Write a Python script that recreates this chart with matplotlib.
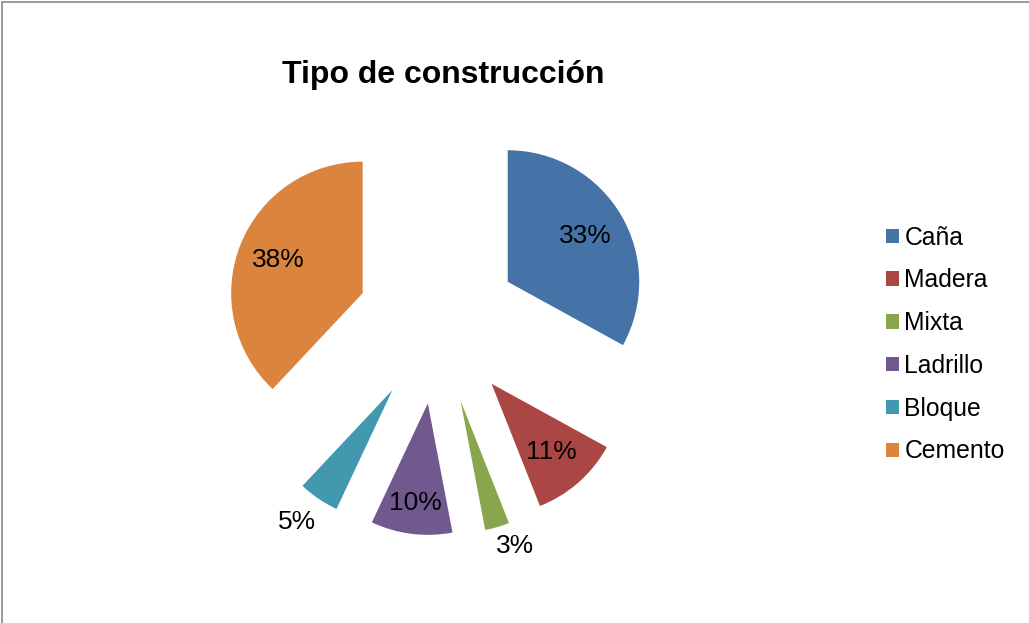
import numpy as np
import matplotlib
matplotlib.use("Agg")
import matplotlib.pyplot as plt
from matplotlib.patches import Rectangle

plt.rcParams['font.family'] = ['Liberation Sans', 'DejaVu Sans']

categorias = ['Caña', 'Madera', 'Mixta', 'Ladrillo', 'Bloque', 'Cemento']
valores = [33, 11, 3, 10, 5, 38]
colores = ['#4572A7', '#AA4643', '#89A54E', '#71588F', '#4198AF', '#DB843D']

W, H = 1029, 623
fig = plt.figure(figsize=(W / 100, H / 100), dpi=100)

# pie centre at (438, 323) px, radius 131.5 px
scale = 131.5
cx_px, cy_px = 438, 323
ax = fig.add_axes([0, 0, 1, 1])

wedges, texts, autotexts = ax.pie(
    valores, colors=colores, startangle=90, counterclock=False,
    explode=[0.616] * len(valores), radius=1,
    autopct='%1.0f%%', pctdistance=0.69,
    wedgeprops=dict(linewidth=0),
    textprops=dict(fontsize=19, color='black'))

# small slices: labels pushed outward like Excel's best fit (distance, angle shift)
ajustes = {2: (1.18, 4.4), 3: (0.76, 0), 4: (1.24, -1.7)}
for i, (dist, dang) in ajustes.items():
    w = wedges[i]
    th = np.deg2rad((w.theta1 + w.theta2) / 2 + dang)
    x0, y0 = w.center
    autotexts[i].set_position((x0 + dist * w.r * np.cos(th),
                               y0 + dist * w.r * np.sin(th)))

ax.set_xlim(-cx_px / scale, (W - cx_px) / scale)
ax.set_ylim((cy_px - H) / scale, cy_px / scale)
ax.set_aspect('equal', adjustable='box')
ax.axis('off')

fig.text(443 / W, 1 - 75 / H, 'Tipo de construcción', ha='center', va='center',
         fontsize=23, fontweight='bold')

ax.legend(wedges, categorias, loc='center left',
          bbox_to_anchor=(886 / W, 1 - 344.5 / H), bbox_transform=fig.transFigure,
          frameon=False, fontsize=17.8, handlelength=0.52, handleheight=0.52,
          handletextpad=0.22, labelspacing=0.76, borderpad=0, borderaxespad=0)

# chart border (only left/top visible in the crop)
fig.patches.append(Rectangle((2 / W, -0.1), 1.2, 1 - 2 / H + 0.1,
                             transform=fig.transFigure, fill=False,
                             edgecolor='#898989', linewidth=1.2))

fig.savefig('out.png', dpi=100)
